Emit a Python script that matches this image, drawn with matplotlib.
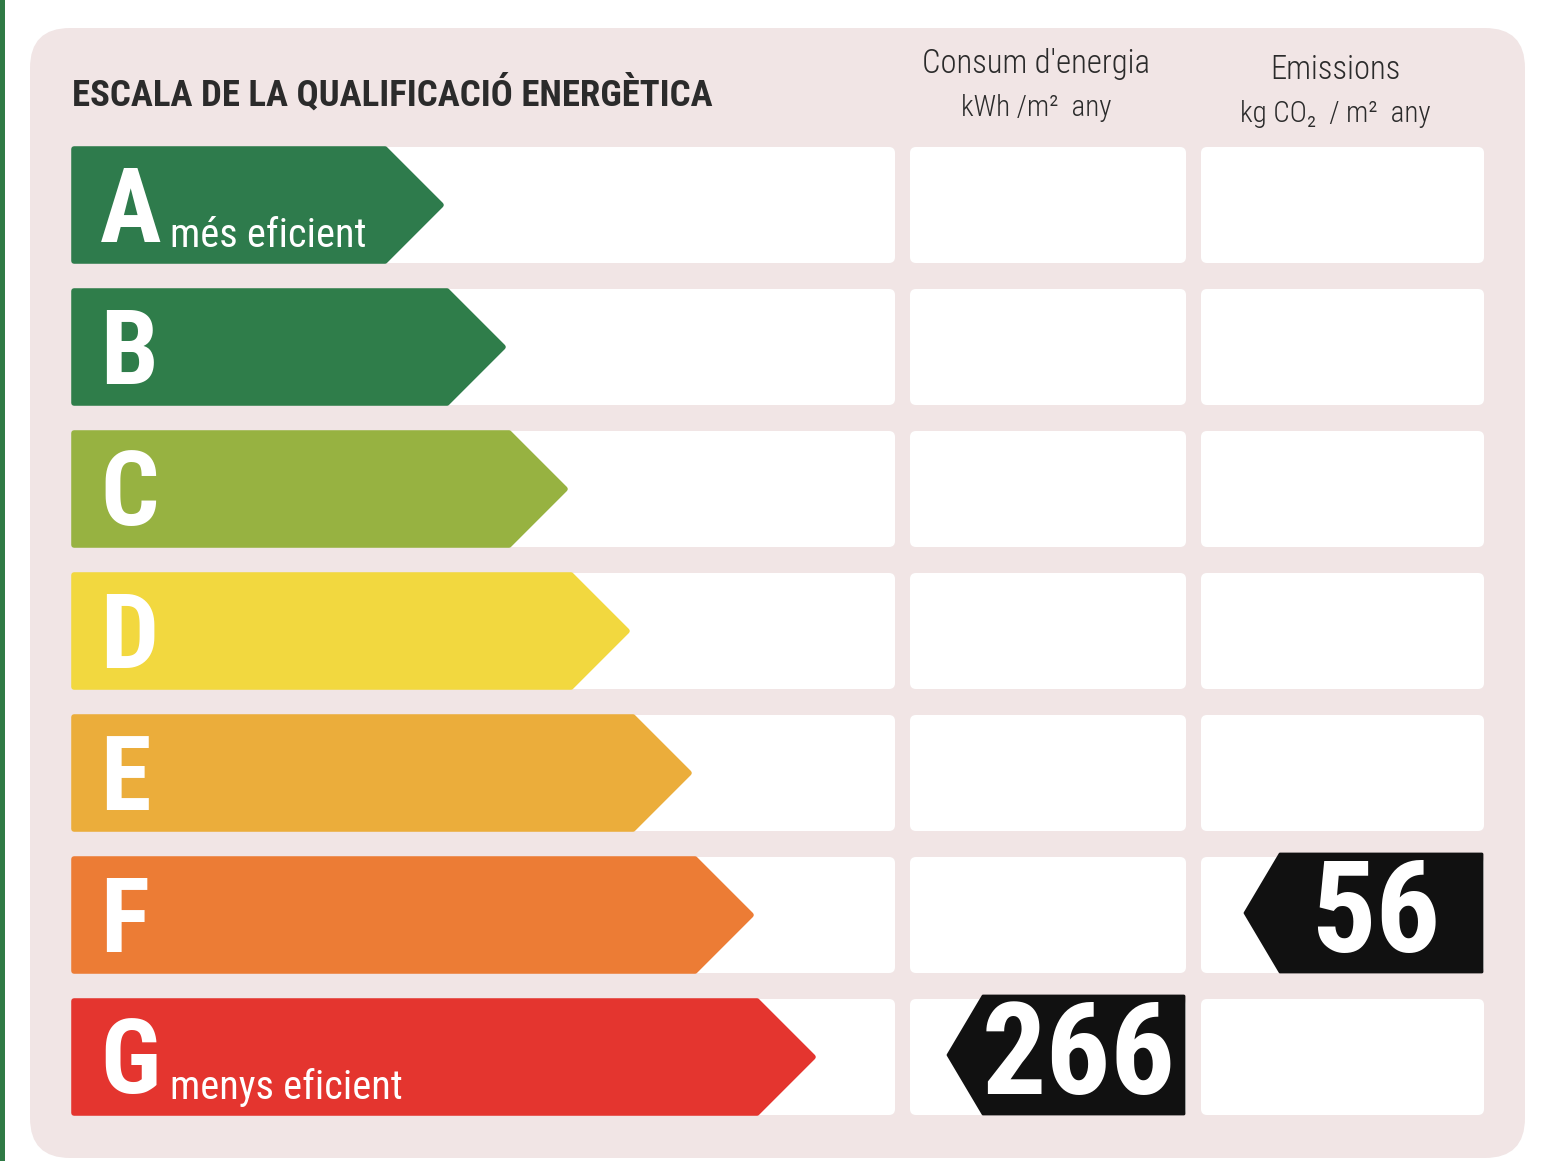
import matplotlib
matplotlib.use("Agg")
import matplotlib.pyplot as plt
from matplotlib.patches import Polygon, FancyBboxPatch, Rectangle
from matplotlib import font_manager

# ---- data -----------------------------------------------------------------
RATINGS      = ["A", "B", "C", "D", "E", "F", "G"]
RATING_COLS  = ["#2e7b4c", "#2f7d4a", "#97b241", "#f2d83f", "#ebad3b", "#ec7c35", "#e4352f"]
ARROW_LEN    = [371, 433, 495, 557, 619, 681, 743]      # arrow length per class
SUBLABELS    = {"A": "més eficient", "G": "menys eficient"}
TITLE        = "ESCALA DE LA QUALIFICACIÓ ENERGÈTICA"
COL_HEADERS  = ["Consum d'energia", "Emissions"]
COL_UNITS    = ["kWh /m²  any", "kg CO₂  / m²  any"]
CONSUM_CLASS, CONSUM_VALUE = "G", 266
EMIS_CLASS,   EMIS_VALUE   = "F", 56

# ---- style ------------------------------------------------------------------
PANEL = "#f1e5e5"
INK   = "#2b2b2b"
W, H  = 1544, 1161

avail = {f.name for f in font_manager.fontManager.ttflist}

def pick(*names):
    for n in names:
        if n in avail:
            return [n, "DejaVu Sans"]
    return ["DejaVu Sans"]

BOLD  = pick("Roboto Condensed", "Archivo Narrow", "PT Sans Narrow", "IBM Plex Sans Condensed")
LIGHT = pick("Roboto Condensed", "IBM Plex Sans Condensed", "PT Sans Narrow", "Archivo Narrow")

fig = plt.figure(figsize=(W / 100, H / 100), dpi=100)
ax = fig.add_axes([0, 0, 1, 1])
ax.set_xlim(0, W)
ax.set_ylim(H, 0)
ax.axis("off")

# green edge on the left and the pink panel
ax.add_patch(Rectangle((0, 0), 5, H, color="#2f7a45", lw=0))
ax.add_patch(FancyBboxPatch((70, 68), 1415, 1050, boxstyle="round,pad=40,rounding_size=40",
                            fc=PANEL, ec="none"))

ax.text(72, 94, TITLE, fontsize=26.5, fontweight="bold", color=INK, family=BOLD,
        va="center", ha="left")

# column headers (sit a touch left of the cell centres)
col_x = [(910, 1186), (1201, 1484)]
for (x0, x1), head, unit, dy, shift in zip(col_x, COL_HEADERS, COL_UNITS, [0, 6], [-12, -7]):
    cx = (x0 + x1) / 2 + shift
    ax.text(cx, 64 + dy, head, fontsize=23.5, fontweight="light", color=INK, family=LIGHT,
            ha="center", va="center")
    ax.text(cx, 108 + dy, unit, fontsize=21, fontweight="light", color=INK, family=LIGHT,
            ha="center", va="center")

ROW_TOP, ROW_STEP, ROW_H = 147, 142, 116
LEFT = 72

def row_y(i):
    return ROW_TOP + i * ROW_STEP

for i, (r, col, ln) in enumerate(zip(RATINGS, RATING_COLS, ARROW_LEN)):
    y0 = row_y(i)
    yc = y0 + ROW_H / 2
    # white cells
    for (x0, x1) in [(LEFT, 895)] + col_x:
        ax.add_patch(FancyBboxPatch((x0 + 4, y0 + 4), x1 - x0 - 8, ROW_H - 8,
                                    boxstyle="round,pad=4,rounding_size=6", fc="white", ec="none"))
    # class arrow
    tip = LEFT + ln
    pts = [(LEFT + 2, y0 + 2), (tip - ROW_H / 2, y0 + 2), (tip - 2, yc),
           (tip - ROW_H / 2, y0 + ROW_H - 2), (LEFT + 2, y0 + ROW_H - 2)]
    ax.add_patch(Polygon(pts, closed=True, fc=col, ec=col, lw=4, joinstyle="round"))
    ax.text(LEFT + 28, yc + 8, r, fontsize=74, fontweight="bold", color="white",
            family=BOLD, ha="left", va="center")
    if r in SUBLABELS:
        ax.text(LEFT + 98, y0 + 100, SUBLABELS[r], fontsize=29, color="white",
                family=LIGHT, ha="left", va="baseline")

def value_tag(i, x_right, value, x_tip):
    y0 = row_y(i) - 3
    h = ROW_H + 2
    yc = y0 + h / 2
    body_left = x_tip + 35
    pts = [(x_tip, yc), (body_left, y0), (x_right, y0), (x_right, y0 + h), (body_left, y0 + h)]
    ax.add_patch(Polygon(pts, closed=True, fc="#111111", ec="#111111", lw=2, joinstyle="round"))
    ax.text((body_left + x_right) / 2 - 5, yc + 4, str(value), fontsize=92, fontweight="bold",
            color="white", family=BOLD, ha="center", va="center")

value_tag(RATINGS.index(CONSUM_CLASS), 1184, CONSUM_VALUE, 948)
value_tag(RATINGS.index(EMIS_CLASS), 1482, EMIS_VALUE, 1245)

fig.savefig("out.png", dpi=100, facecolor="white")
